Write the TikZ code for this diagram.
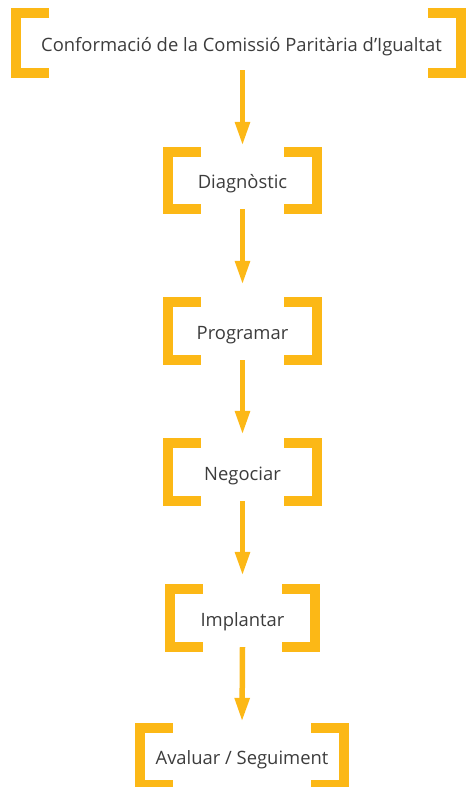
\documentclass[tikz,border=0pt]{standalone}
\usepackage{fontspec}
\setmainfont{Open Sans}
\usetikzlibrary{arrows.meta}
\definecolor{groc}{RGB}{252,184,22}
\definecolor{gristext}{RGB}{60,60,60}
\tikzset{
  pas/.style={inner sep=0pt, text height=16pt, text depth=0pt, text=gristext,
    font=\fontsize{18.4}{22}\selectfont},
  claud/.style={groc, line width=10pt, miter limit=10},
  fletxa/.style={groc, line width=5.5pt, -{Triangle[length=24pt,width=14pt]}}
}
\begin{document}
\begin{tikzpicture}[x=1pt, y=-1pt]
  \useasboundingbox (0,0) rectangle (468,787);
  \node[pas, minimum width=444pt, minimum height=59pt] (conf) at (238.5,43) {\hspace{6pt}Conformació de la Comissió Paritària d’Igualtat};
  \node[pas, minimum width=149pt, minimum height=57pt] (diag) at (242.5,180.5) {Diagnòstic};
  \node[pas, minimum width=149pt, minimum height=58pt] (prog) at (242.5,331) {Programar};
  \node[pas, minimum width=149pt, minimum height=58pt] (nego) at (242.5,472) {Negociar};
  \node[pas, minimum width=145pt, minimum height=58pt] (impl) at (242.5,618) {Implantar};
  \node[pas, minimum width=204pt, minimum height=57pt] (aval) at (242,756.5) {Avaluar / Seguiment};
  \foreach \n in {conf,diag,prog,nego,impl,aval}{
    \draw[claud] ([xshift=33pt]\n.north west) -- (\n.north west) -- (\n.south west) -- ([xshift=33pt]\n.south west);
    \draw[claud] ([xshift=-33pt]\n.north east) -- (\n.north east) -- (\n.south east) -- ([xshift=-33pt]\n.south east);
  }
  \draw[fletxa, shorten <=-2.5pt, shorten >=6pt] (diag.north |- conf.south) -- (diag.north);
  \draw[fletxa, shorten >=17pt] (diag.south) -- (prog.north);
  \draw[fletxa, shorten >=8pt] (prog.south) -- (nego.north);
  \draw[fletxa, shorten >=13pt] (nego.south) -- (impl.north);
  \draw[fletxa, shorten >=6pt] (impl.south) -- (aval.north);
\end{tikzpicture}
\end{document}
